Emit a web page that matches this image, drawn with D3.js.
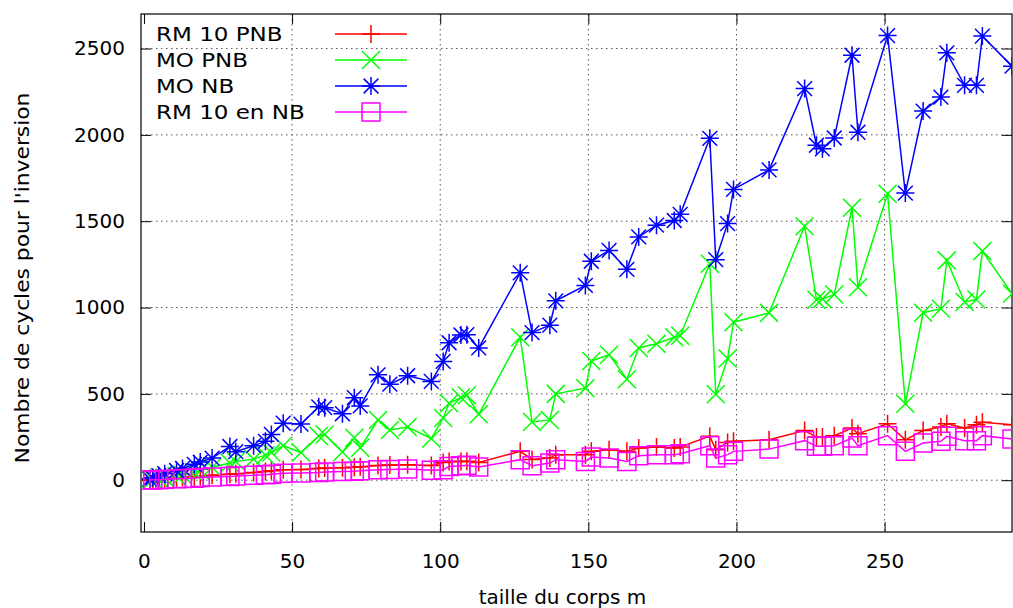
<!DOCTYPE html>
<html>
<head>
<meta charset="utf-8">
<script src="https://cdn.jsdelivr.net/npm/d3@7"></script>
<style>
  body { margin: 0; background: #fff; }
  svg text { font-family: "DejaVu Sans", sans-serif; font-size: 20px; fill: #000; }
</style>
</head>
<body>
<svg id="chart" width="1013" height="608"></svg>
<script>
// ── data ─────────────────────────────────────────────────────────────────────
// field sizes m (x) and cycle counts per method
const tailles = [2, 3, 5, 7, 11, 13, 17, 19, 23, 29, 31, 37, 41, 43, 47, 53, 59, 61, 67, 71,
  73, 79, 83, 89, 97, 101, 103, 107, 109, 113, 127, 131, 137, 139, 149, 151, 157, 163, 167, 173,
  179, 181, 191, 193, 197, 199, 211, 223, 227, 229, 233, 239, 241, 251, 257, 263, 269, 271, 277,
  281, 283, 293];

const rm10PNB = [2, 3, 5, 8, 12, 15, 18, 22, 28, 35, 38, 45, 50, 55, 60, 62, 68, 70, 72, 75,
  78, 85, 88, 90, 85, 103, 109, 109, 110, 103, 167, 120, 128, 148, 148, 167, 177, 167, 186, 192,
  186, 192, 255, 177, 219, 225, 234, 288, 250, 250, 258, 302, 269, 327, 234, 288, 308, 327, 302,
  321, 335, 321];

const moPNB = [3, 5, 10, 15, 25, 32, 45, 55, 75, 100, 108, 122, 145, 160, 200, 160, 256, 265, 163, 246,
  188, 349, 291, 308, 242, 360, 446, 479, 492, 382, 828, 337, 349, 500, 533, 690, 727, 585, 766, 790,
  828, 837, 1254, 498, 705, 915, 969, 1471, 1045, 1050, 1075, 1578, 1118, 1659, 443, 970, 993, 1273, 1032,
  1047, 1327, 1080];

const moNB = [8, 14, 26, 38, 56, 68, 92, 105, 128, 195, 165, 200, 225, 265, 330, 325, 425, 420, 385, 478,
  430, 610, 556, 605, 572, 688, 796, 841, 843, 766, 1201, 855, 898, 1039, 1128, 1268, 1331, 1221, 1409, 1477,
  1504, 1540, 1980, 1277, 1486, 1684, 1797, 2268, 1940, 1919, 1982, 2461, 2015, 2575, 1663, 2138, 2219, 2475, 2287,
  2287, 2572, 2398];

const rm10NB = [1, 2, 3, 5, 8, 10, 12, 15, 18, 22, 25, 28, 32, 35, 40, 42, 45, 48, 50, 52,
  55, 60, 62, 65, 57, 61, 80, 84, 86, 76, 119, 84, 99, 119, 109, 134, 128, 109, 142, 148,
  148, 153, 200, 128, 148, 167, 180, 229, 196, 196, 200, 244, 200, 258, 167, 215, 225, 254, 229,
  229, 258, 238];

const xTicks = [0, 50, 100, 150, 200, 250];
const yTicks = [0, 500, 1000, 1500, 2000, 2500];

const series = [
  { label: 'RM 10 PNB',   values: rm10PNB, color: '#ff0000', marker: 'plus' },
  { label: 'MO PNB',      values: moPNB,   color: '#00ff00', marker: 'cross' },
  { label: 'MO NB',       values: moNB,    color: '#0000ff', marker: 'star' },
  { label: 'RM 10 en NB', values: rm10NB,  color: '#ff00ff', marker: 'square' }
];

// ── layout ───────────────────────────────────────────────────────────────────
const svg = d3.select('#chart');
const plot = { left: 141, right: 1012, top: 14, bottom: 532 };

const x = d3.scaleLinear().domain([-1, 293]).range([plot.left, plot.right]);
const y = d3.scaleLinear().domain([-300, 2700]).range([plot.bottom, plot.top]);

svg.append('defs').append('clipPath').attr('id', 'clip')
  .append('rect')
  .attr('x', plot.left).attr('y', plot.top)
  .attr('width', plot.right - plot.left).attr('height', plot.bottom - plot.top);

// ── grid ─────────────────────────────────────────────────────────────────────
const grid = svg.append('g').attr('stroke', '#555').attr('stroke-width', 1)
  .attr('stroke-dasharray', '1.5,3.5');

grid.selectAll('.gx').data(xTicks.filter(d => d > 0)).join('line')
  .attr('x1', d => x(d)).attr('x2', d => x(d))
  .attr('y1', plot.top).attr('y2', plot.bottom);

grid.selectAll('.gy').data(yTicks).join('line')
  .attr('x1', plot.left).attr('x2', plot.right)
  .attr('y1', d => y(d)).attr('y2', d => y(d));

// ── axes (gnuplot style: inward ticks, mirrored) ─────────────────────────────
const tickLen = 10;
const axisB = d3.axisBottom(x).tickValues(xTicks).tickSizeInner(-tickLen).tickSizeOuter(0).tickPadding(22);
const axisT = d3.axisTop(x).tickValues(xTicks).tickSizeInner(-tickLen).tickSizeOuter(0).tickFormat('');
const axisL = d3.axisLeft(y).tickValues(yTicks).tickSizeInner(-tickLen).tickSizeOuter(0).tickPadding(16).tickFormat(d3.format('d'));
const axisR = d3.axisRight(y).tickValues(yTicks).tickSizeInner(-tickLen).tickSizeOuter(0).tickFormat('');

function styleAxis(g) {
  g.select('.domain').remove();
  g.selectAll('.tick line').attr('stroke', '#000').attr('stroke-width', 1);
  g.selectAll('.tick text').attr('font-size', 20).attr('font-family', '"DejaVu Sans", sans-serif').attr('fill', '#000');
}

svg.append('g').attr('transform', `translate(0,${plot.bottom})`).call(axisB).call(styleAxis);
svg.append('g').attr('transform', `translate(0,${plot.top})`).call(axisT).call(styleAxis);
svg.append('g').attr('transform', `translate(${plot.left},0)`).call(axisL).call(styleAxis);
svg.append('g').attr('transform', `translate(${plot.right},0)`).call(axisR).call(styleAxis);

svg.append('rect')
  .attr('x', plot.left).attr('y', plot.top)
  .attr('width', plot.right - plot.left).attr('height', plot.bottom - plot.top)
  .attr('fill', 'none').attr('stroke', '#000').attr('stroke-width', 1.2);

// ── markers ──────────────────────────────────────────────────────────────────
const ms = 9;
function markerPath(type) {
  const s = ms, c = ms * 0.82;
  if (type === 'plus')   return `M${-s},0H${s}M0,${-s}V${s}`;
  if (type === 'cross')  return `M${-s},${-s}L${s},${s}M${-s},${s}L${s},${-s}`;
  if (type === 'star')   return `M${-s},0H${s}M0,${-s}V${s}M${-c},${-c}L${c},${c}M${-c},${c}L${c},${-c}`;
  return `M${-s},${-s}H${s}V${s}H${-s}Z`;
}

// ── series ───────────────────────────────────────────────────────────────────
const line = d3.line().x(d => x(d[0])).y(d => y(d[1]));
const dataLayer = svg.append('g').attr('clip-path', 'url(#clip)');

series.forEach(s => {
  const pts = tailles.map((t, i) => [t, s.values[i]]);
  const g = dataLayer.append('g');
  g.append('path').datum(pts)
    .attr('d', line)
    .attr('fill', 'none').attr('stroke', s.color).attr('stroke-width', 1.5);
  g.selectAll('path.mk').data(pts).join('path')
    .attr('class', 'mk')
    .attr('transform', d => `translate(${x(d[0])},${y(d[1])})`)
    .attr('d', markerPath(s.marker))
    .attr('fill', 'none').attr('stroke', s.color).attr('stroke-width', 1.5);
});

// ── legend ───────────────────────────────────────────────────────────────────
const legend = svg.append('g');
series.forEach((s, i) => {
  const ly = 34 + i * 26;
  legend.append('text')
    .attr('transform', `translate(156,${ly + 7}) scale(1.15,1)`)
    .text(s.label);
  legend.append('line')
    .attr('x1', 335).attr('x2', 407).attr('y1', ly).attr('y2', ly)
    .attr('stroke', s.color).attr('stroke-width', 1.5);
  legend.append('path')
    .attr('transform', `translate(371,${ly})`)
    .attr('d', markerPath(s.marker))
    .attr('fill', 'none').attr('stroke', s.color).attr('stroke-width', 1.5);
});

// ── axis titles ──────────────────────────────────────────────────────────────
svg.append('text')
  .attr('transform', `translate(29,278) rotate(-90) scale(1.09,1)`)
  .attr('text-anchor', 'middle')
  .text("Nombre de cycles pour l'inversion");

svg.append('text')
  .attr('x', (plot.left + plot.right) / 2 - 14).attr('y', 604)
  .attr('text-anchor', 'middle')
  .text('taille du corps m');
</script>
</body>
</html>
